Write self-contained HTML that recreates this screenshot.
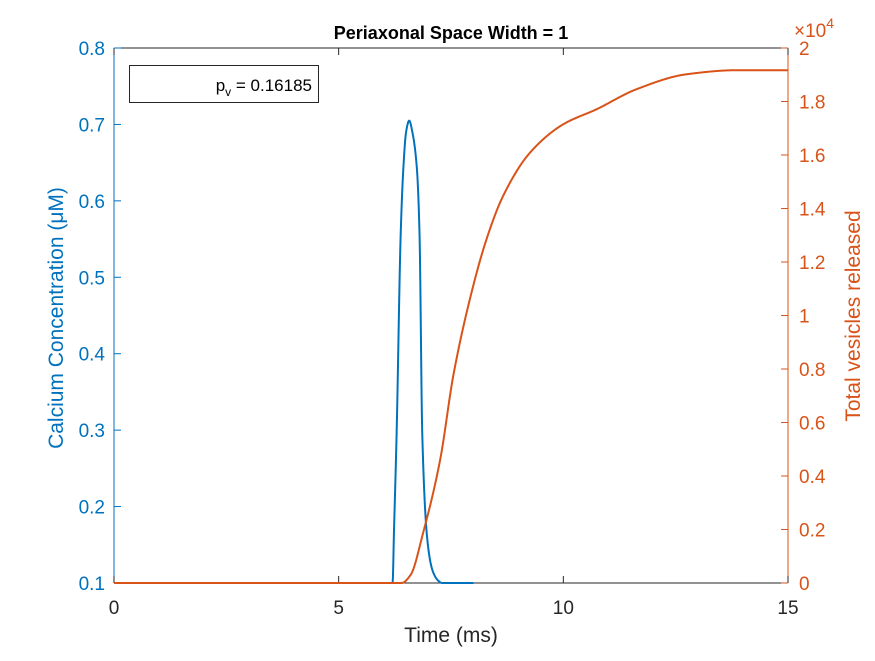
<!DOCTYPE html>
<html><head><meta charset="utf-8"><style>
body{margin:0;background:#fff;width:875px;height:656px;overflow:hidden}
svg{font-family:"Liberation Sans",sans-serif}
</style></head><body>
<svg id="chart" width="875" height="656"></svg>
<script>
const xTicks=[0,5,10,15];
const leftTicks=[0.1,0.2,0.3,0.4,0.5,0.6,0.7,0.8];
const rightTicks=[0,0.2,0.4,0.6,0.8,1,1.2,1.4,1.6,1.8,2];
const rightTickLabels=["0","0.2","0.4","0.6","0.8","1","1.2","1.4","1.6","1.8","2"];
const caTime=[0,6.2,6.23,6.29,6.38,6.44,6.5,6.57,6.64,6.74,6.8,6.86,6.96,7.05,7.11,7.2,7.3,8.0];
const caValue=[0.1,0.1,0.165,0.296,0.556,0.643,0.69,0.705,0.69,0.643,0.556,0.296,0.165,0.125,0.113,0.104,0.1,0.1];
const vesTime=[0,6.4,6.6,6.88,7.26,7.55,7.92,8.29,8.66,9.26,10.0,10.74,11.63,12.75,13.86,15];
const vesValue=[0,0,0.03,0.188,0.462,0.774,1.061,1.285,1.447,1.609,1.715,1.771,1.846,1.902,1.917,1.917];

const L=114,R=788,T=48,B=583;
const xs=t=>L+(t-0)/15*(R-L);
const yl=v=>B-(v-0.1)/0.7*(B-T);
const yr=v=>B-v/2*(B-T);
const svg=document.getElementById('chart');
const NS='http://www.w3.org/2000/svg';
function mk(tag,attrs,parent){const e=document.createElementNS(NS,tag);for(const k in attrs)e.setAttribute(k,attrs[k]);(parent||svg).appendChild(e);return e;}
function monoPath(X,Y,fx,fy){
  const n=X.length,dl=[],m=[];
  for(let i=0;i<n-1;i++)dl.push((Y[i+1]-Y[i])/(X[i+1]-X[i]));
  m[0]=dl[0];m[n-1]=dl[n-2];
  for(let i=1;i<n-1;i++){
    if(dl[i-1]*dl[i]<=0)m[i]=0;
    else{const h0=X[i]-X[i-1],h1=X[i+1]-X[i];const w1=2*h1+h0,w2=h1+2*h0;m[i]=(w1+w2)/(w1/dl[i-1]+w2/dl[i]);}
  }
  let d='M'+fx(X[0]).toFixed(2)+','+fy(Y[0]).toFixed(2);
  for(let i=0;i<n-1;i++){
    const h=X[i+1]-X[i],steps=Math.max(2,Math.ceil(h/0.01));
    for(let s=1;s<=steps;s++){
      const u=s/steps,u2=u*u,u3=u2*u;
      const y=(2*u3-3*u2+1)*Y[i]+(u3-2*u2+u)*h*m[i]+(-2*u3+3*u2)*Y[i+1]+(u3-u2)*h*m[i+1];
      d+='L'+fx(X[i]+u*h).toFixed(2)+','+fy(y).toFixed(2);
    }
  }
  return d;
}
const BLUE='#0072BD',ORG='#D95319',K='#262626';

let e;
e=mk('line',{x1:L,y1:B,x2:R,y2:B,stroke:K,'stroke-width':1});


e=mk('line',{x1:L,y1:T,x2:R,y2:T,stroke:K,'stroke-width':1});


e=mk('line',{x1:L,y1:T,x2:L,y2:B,stroke:BLUE,'stroke-width':1});


e=mk('line',{x1:R,y1:T,x2:R,y2:B,stroke:ORG,'stroke-width':1});



xTicks.forEach(t=>{
  mk('line',{x1:xs(t),y1:B,x2:xs(t),y2:B-7,stroke:K});
  mk('line',{x1:xs(t),y1:T,x2:xs(t),y2:T+7,stroke:K});
  const tx=mk('text',{x:xs(t),y:B+31,'text-anchor':'middle','font-size':19,fill:K});
  tx.textContent=t;
  
  
});
leftTicks.forEach(v=>{
  mk('line',{x1:L,y1:yl(v),x2:L+7,y2:yl(v),stroke:BLUE});
  const tx=mk('text',{x:L-9,y:yl(v)+7,'text-anchor':'end','font-size':19,fill:BLUE});
  tx.textContent=v.toFixed(1);
  
  
});
rightTicks.forEach((v,i)=>{
  mk('line',{x1:R,y1:yr(v),x2:R-7,y2:yr(v),stroke:ORG});
  const tx=mk('text',{x:R+11,y:yr(v)+7,'font-size':19,fill:ORG});
  tx.textContent=rightTickLabels[i];
  
  
});

e=mk('path',{d:monoPath(caTime,caValue,xs,yl),fill:'none',stroke:BLUE,'stroke-width':2,'stroke-linejoin':'round'});


e=mk('path',{d:monoPath(vesTime,vesValue,xs,yr),fill:'none',stroke:ORG,'stroke-width':2,'stroke-linejoin':'round'});


</script>
<svg width="875" height="656" style="position:absolute;left:0;top:0">
<text x="451" y="39" text-anchor="middle" font-size="18" font-weight="bold" fill="#000">Periaxonal Space Width = 1</text>
<text x="451" y="642" text-anchor="middle" font-size="21" fill="#262626">Time (ms)</text>
<text transform="translate(63,318) rotate(-90)" text-anchor="middle" font-size="21" fill="#0072BD">Calcium Concentration (μM)</text>
<text transform="translate(860,316) rotate(-90)" text-anchor="middle" font-size="21" fill="#D95319">Total vesicles released</text>
<text x="794" y="37" font-size="19" fill="#D95319">×10<tspan dy="-9" font-size="14">4</tspan></text>
<g>
<rect x="129.5" y="65.5" width="189" height="37" fill="#fff" stroke="#262626" stroke-width="1"/>
<text x="312" y="91" text-anchor="end" font-size="17" fill="#000">p<tspan dy="5" font-size="12">v</tspan><tspan dy="-5"> = 0.16185</tspan></text>
</g>
</svg>
</body></html>
